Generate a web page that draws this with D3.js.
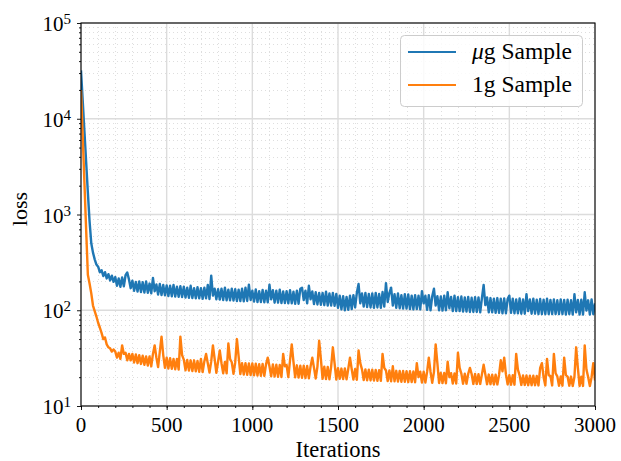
<!DOCTYPE html>
<html>
<head>
<meta charset="utf-8">
<script src="https://cdn.jsdelivr.net/npm/d3@7/dist/d3.min.js"></script>
<style>
  html, body { margin: 0; padding: 0; background: #fff; }
  svg { display: block; }
  text { font-family: "Liberation Serif", "Times New Roman", serif; fill: #000; }
</style>
</head>
<body>
<svg id="chart" width="621" height="461"></svg>
<script>
// ---------------- data ----------------
const seriesNames = ["\u03bcg Sample", "1g Sample"];
const seriesColors = ["#1f77b4", "#ff7f0e"];
const iterStep = 10;
const iterations = d3.range(0, 3001, iterStep); // sample index -> iteration

const lossMicrogram = [
  32000, 15500, 7400, 3550, 1700, 850, 500, 400, 340, 300,
  285, 250, 262, 228, 250, 215, 238, 205, 230, 198,
  222, 180, 215, 176, 220, 178, 232, 248, 210, 170,
  204, 160, 198, 157, 200, 155, 196, 153, 200, 152,
  190, 150, 218, 158, 186, 146, 188, 144, 184, 143,
  182, 141, 180, 140, 184, 139, 176, 138, 178, 137,
  176, 136, 172, 135, 180, 134, 170, 133, 174, 133,
  170, 132, 172, 133, 184, 131, 230, 142, 168, 130,
  166, 129, 168, 128, 172, 127, 164, 127, 168, 126,
  166, 125, 164, 125, 168, 124, 172, 125, 185, 128,
  160, 123, 165, 122, 158, 122, 163, 121, 160, 121,
  185, 130, 162, 120, 160, 120, 164, 119, 157, 119,
  158, 118, 162, 118, 156, 117, 160, 117, 168, 172,
  128, 160, 118, 180, 130, 157, 116, 154, 115, 152,
  114, 152, 113, 156, 112, 150, 112, 152, 111, 148,
  106, 142, 102, 140, 100, 138, 101, 142, 103, 144,
  107, 152, 188, 118, 150, 109, 152, 108, 148, 107,
  150, 106, 152, 107, 148, 106, 155, 109, 192, 122,
  152, 172, 112, 147, 106, 150, 105, 144, 104, 147,
  104, 146, 103, 142, 102, 144, 103, 142, 102, 158,
  118, 142, 101, 144, 100, 140, 168, 112, 140, 100,
  139, 99, 142, 100, 154, 105, 138, 98, 142, 98,
  137, 98, 139, 97, 136, 97, 138, 96, 135, 96,
  137, 96, 136, 95, 134, 184, 113, 136, 95, 134,
  95, 132, 94, 134, 94, 132, 93, 133, 93, 131,
  142, 94, 132, 93, 130, 93, 133, 92, 130, 92,
  147, 98, 130, 92, 132, 92, 129, 91, 131, 91,
  129, 91, 132, 91, 128, 91, 130, 91, 127, 91,
  130, 91, 128, 90, 129, 91, 127, 90, 147, 95,
  128, 90, 129, 90, 154, 99, 127, 90, 130, 91,
  118
];

const lossOneGram = [
  20000, 6600, 2150, 700, 235, 190, 150, 112, 98, 86,
  74, 66, 58, 50, 52, 44, 41, 40, 37, 39,
  37, 32, 36, 31, 43, 35, 36, 30, 35, 30,
  35, 28.5, 34.5, 28, 34, 27.5, 33.5, 27, 33, 26.5,
  33, 26, 35, 43, 32, 25.5, 37, 53, 34, 25,
  32, 24.6, 31.5, 24.4, 31, 24.2, 31, 24, 53, 34,
  30.5, 23.6, 30.2, 23.4, 30, 23.2, 30, 23, 29.6, 22.8,
  31, 22.6, 29.4, 35, 28, 22.4, 29.2, 43, 31, 22.2,
  29, 38, 28, 22, 28.8, 21.9, 45, 31, 28.6, 21.7,
  28.5, 50, 33, 21.5, 28, 21.3, 28, 21.2, 27.8, 21,
  27.8, 20.9, 27.6, 20.8, 27.4, 20.7, 27.5, 20.6, 27.2, 32,
  26, 20.4, 27.2, 20.3, 27, 20.2, 26.9, 20.1, 35, 26,
  26.8, 20, 30, 44, 29, 19.9, 26.6, 19.8, 26.4, 19.7,
  26.3, 19.6, 26.2, 19.5, 26, 32, 25, 19.4, 25.8, 48,
  31, 19.2, 25.7, 19.1, 25.6, 19, 25.8, 41, 28, 18.9,
  24.8, 19.2, 24.6, 19.1, 24.7, 19, 24.5, 32, 24.3, 18.9,
  24.3, 18.8, 38, 28, 24.1, 18.7, 24.1, 18.6, 23.9, 18.5,
  23.9, 18.4, 23.8, 18.3, 23.7, 18.3, 35, 25, 23.5, 18.2,
  23.5, 18.1, 26, 18.1, 23.3, 18, 23.2, 17.9, 23.2, 17.9,
  23.1, 17.8, 23.1, 17.8, 23, 17.7, 28, 20, 22.8, 17.6,
  22.8, 17.6, 22.7, 32, 22.8, 17.5, 22.6, 44, 28, 17.4,
  22.2, 17.4, 22.1, 17.3, 29, 20, 22, 17.2, 21.9, 17.2,
  36, 25, 21.8, 17.1, 21.8, 17.1, 21.7, 25, 21.6, 17,
  21.6, 17, 21.5, 17, 21.4, 27, 21.4, 16.9, 21.3, 16.9,
  21.2, 16.8, 21.2, 16.8, 21.1, 30, 23, 32, 21.5, 16.8,
  21, 16.7, 21, 16.7, 35, 24, 20.9, 16.6, 20.8, 16.6,
  20.8, 16.5, 20.7, 16.5, 20.7, 16.5, 20.6, 16.4, 25, 28,
  20, 16.4, 31, 21, 20.5, 16.4, 35, 22, 20.4, 16.3,
  20.4, 16.3, 32, 21, 20.3, 16.3, 20.3, 16.2, 20.2, 41,
  25, 16.2, 20.2, 16.2, 43, 24, 20.1, 16.2, 20, 28,
  18.5
];

const xTickValues = [0, 500, 1000, 1500, 2000, 2500, 3000];
const xMinorTickValues = d3.range(0, 3001, 100);
const yTickExponents = [1, 2, 3, 4, 5];

// ---------------- layout ----------------
const margin = { left: 81, right: 26, top: 23, bottom: 55 };
const W = 621, H = 461;
const x0 = margin.left, x1 = W - margin.right;
const y0 = margin.top, y1 = H - margin.bottom;

const svg = d3.select("#chart");
const x = d3.scaleLinear().domain([0, 3000]).range([x0, x1]);
const y = d3.scaleLog().domain([10, 1e5]).range([y1, y0]);

const yMajor = yTickExponents.map(e => Math.pow(10, e));
const yMinor = [];
for (let e = 1; e < 5; e++) for (let m = 2; m <= 9; m++) yMinor.push(m * Math.pow(10, e));

// ---------------- grid ----------------
const grid = svg.append("g");
grid.selectAll(".vminor").data(xMinorTickValues.filter(v => v % 500 !== 0)).join("line")
  .attr("x1", d => Math.round(x(d)) + 0.5).attr("x2", d => Math.round(x(d)) + 0.5).attr("y1", y0).attr("y2", y1)
  .attr("stroke", "#dedede").attr("stroke-width", 1).attr("stroke-dasharray", "1,3");
grid.selectAll(".hminor").data(yMinor).join("line")
  .attr("x1", x0).attr("x2", x1).attr("y1", d => Math.round(y(d)) + 0.5).attr("y2", d => Math.round(y(d)) + 0.5)
  .attr("stroke", "#dedede").attr("stroke-width", 1).attr("stroke-dasharray", "1,3");
grid.selectAll(".vmajor").data(xTickValues).join("line")
  .attr("x1", d => x(d)).attr("x2", d => x(d)).attr("y1", y0).attr("y2", y1)
  .attr("stroke", "#dcdcdc").attr("stroke-width", 1.4);
grid.selectAll(".hmajor").data(yMajor).join("line")
  .attr("x1", x0).attr("x2", x1).attr("y1", d => y(d)).attr("y2", d => y(d))
  .attr("stroke", "#dcdcdc").attr("stroke-width", 1.4);

// ---------------- lines ----------------
svg.append("defs").append("clipPath").attr("id", "clip")
  .append("rect").attr("x", x0).attr("y", y0).attr("width", x1 - x0).attr("height", y1 - y0);

const line = d3.line().x((d, i) => x(iterations[i])).y(d => y(d));
const series = [lossMicrogram, lossOneGram];
const lines = svg.append("g").attr("clip-path", "url(#clip)");
series.forEach((s, k) => {
  lines.append("path").datum(s)
    .attr("d", line)
    .attr("fill", "none")
    .attr("stroke", seriesColors[k])
    .attr("stroke-width", 2.4)
    .attr("stroke-linejoin", "round");
});

// ---------------- axes ----------------
const xAxisMinor = d3.axisBottom(x).tickValues(xMinorTickValues).tickSize(2).tickFormat("");
const xAxisMajor = d3.axisBottom(x).tickValues(xTickValues).tickSize(4).tickFormat("");
const yAxisMinor = d3.axisLeft(y).tickValues(yMinor).tickSize(2).tickFormat("");
const yAxisMajor = d3.axisLeft(y).tickValues(yMajor).tickSize(4).tickFormat("");

[xAxisMinor, xAxisMajor].forEach(a => {
  const g = svg.append("g").attr("transform", `translate(0,${y1})`).call(a);
  g.select(".domain").remove();
  g.selectAll("line").attr("stroke", "#000").attr("stroke-width", 0.9);
});
[yAxisMinor, yAxisMajor].forEach(a => {
  const g = svg.append("g").attr("transform", `translate(${x0},0)`).call(a);
  g.select(".domain").remove();
  g.selectAll("line").attr("stroke", "#000").attr("stroke-width", 0.9);
});

// frame
svg.append("rect").attr("x", x0).attr("y", y0).attr("width", x1 - x0).attr("height", y1 - y0)
  .attr("fill", "none").attr("stroke", "#000").attr("stroke-width", 1.1);

// x tick labels
svg.append("g").selectAll("text").data(xTickValues).join("text")
  .attr("x", d => x(d)).attr("y", y1 + 26)
  .attr("text-anchor", "middle").attr("font-size", 21)
  .text(d => d);

// y tick labels with superscripts
const yl = svg.append("g").selectAll("text").data(yTickExponents).join("text")
  .attr("x", x0 - 10).attr("y", d => y(Math.pow(10, d)) + 8)
  .attr("text-anchor", "end").attr("font-size", 21);
yl.append("tspan").text("10");
yl.append("tspan").attr("dy", -7).attr("font-size", 15).text(d => d);

// axis titles
svg.append("text").attr("x", (x0 + x1) / 2).attr("y", 457)
  .attr("text-anchor", "middle").attr("font-size", 22.5).text("Iterations");
svg.append("text").attr("transform", `translate(27,209) rotate(-90)`)
  .attr("text-anchor", "middle").attr("font-size", 22).text("loss");

// ---------------- legend ----------------
const lg = svg.append("g");
lg.append("rect").attr("x", 400.5).attr("y", 35.5).attr("width", 182).attr("height", 71)
  .attr("rx", 4).attr("fill", "#fff").attr("fill-opacity", 0.85)
  .attr("stroke", "#cccccc").attr("stroke-width", 1);
const rowY = [52, 85];
seriesNames.forEach((name, k) => {
  lg.append("line").attr("x1", 408).attr("x2", 456).attr("y1", rowY[k]).attr("y2", rowY[k])
    .attr("stroke", seriesColors[k]).attr("stroke-width", 2);
  const t = lg.append("text").attr("x", 472).attr("y", rowY[k] + 7).attr("font-size", 23.5);
  if (k === 0) {
    t.append("tspan").attr("font-style", "italic").text("\u03bc");
    t.append("tspan").text("g Sample");
  } else {
    t.text(name);
  }
});
</script>
</body>
</html>
